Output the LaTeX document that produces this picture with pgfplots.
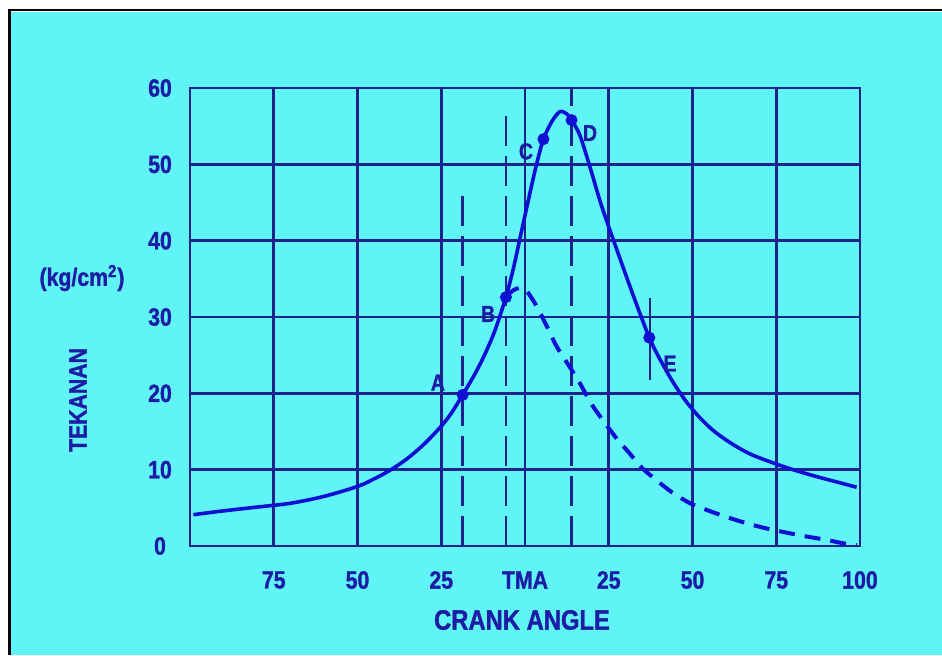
\documentclass[border=0pt]{standalone}
\usepackage{pgfplots}
\pgfplotsset{compat=1.18}
\usepackage{fontspec}
\setmainfont{Liberation Sans}
\newfontfamily\cf{Liberation Sans}[FakeStretch=0.85, BoldFeatures={FakeBold=1.2}]
\definecolor{cyanbg}{RGB}{96,244,246}
\definecolor{gridc}{RGB}{28,36,140}
\definecolor{curvec}{RGB}{16,16,210}
\definecolor{textc}{RGB}{28,28,165}
\newcommand{\lab}{\fontsize{12.5}{14}\selectfont\bfseries\cf}
\newcommand{\letr}{\fontsize{11.5}{13}\selectfont\bfseries\cf}
\begin{document}
\begin{tikzpicture}
\useasboundingbox (0,0) rectangle (471pt,327.5pt);
\fill[white] (0,0) rectangle (471pt,327.5pt);
\fill[cyanbg] (5.5pt,0) rectangle (471pt,321.5pt);
\draw[black,line width=1.4pt] (4.7pt,0) -- (4.7pt,322.5pt) -- (471pt,322.5pt);
\node[text=textc,rotate=90,font=\fontsize{12.5}{14}\selectfont\bfseries\cf] at (39pt,127.5pt) {TEKANAN};
\node[text=textc,font=\fontsize{12.5}{14}\selectfont\bfseries\cf] at (41pt,188.5pt) {(kg/cm\textsuperscript{2})};
\node[text=textc,font=\fontsize{14}{16}\selectfont\bfseries\cf] at (261pt,17.5pt) {CRANK ANGLE};
\begin{axis}[
  at={(95pt,54.5pt)}, anchor=south west,
  scale only axis, width=335pt, height=229pt,
  xmin=-100, xmax=100, ymin=0, ymax=60,
  xtick={-100,-75,-50,-25,0,25,50,75,100},
  xticklabels={,75,50,25,TMA,25,50,75,100},
  ytick={0,10,20,30,40,50,60},
  grid=major,
  major grid style={line width=1.3pt, draw=gridc},
  axis line style={line width=1.3pt, draw=gridc},
  major tick length=0pt,
  tick label style={font=\lab, text=textc},
  /pgf/number format/assume math mode=true,
  xticklabel style={anchor=center, yshift=-17pt},
  yticklabel style={anchor=center, xshift=-15pt},
  clip=false,
]
% vertical dashed reference lines
\addplot[draw=gridc, line width=1.2pt, dash pattern=on 15pt off 5pt] coordinates {(-18.6,0) (-18.6,46)};
\addplot[draw=gridc, line width=1.2pt, dash pattern=on 15pt off 5pt] coordinates {(-5.7,0) (-5.7,56.5)};
\addplot[draw=gridc, line width=1.2pt, dash pattern=on 15pt off 5pt] coordinates {(13.9,0) (13.9,60)};
\addplot[draw=gridc, line width=1.2pt] coordinates {(37.3,21.8) (37.3,32.5)};
% solid pressure curve (combustion)
\addplot[draw=curvec, line width=1.8pt, smooth] coordinates {
(-99,4.1) (-92,4.5) (-80,5.1) (-70,5.6) (-60,6.5) (-50,7.8) (-45,8.8) (-40,10.0)
(-35,11.5) (-30,13.4) (-25,15.7) (-22,17.4) (-18.6,19.8) (-15,22.5) (-12,25.1)
(-9,28.2) (-5.7,32.6) (-3.5,36.3) (-1.5,40.3) (1.5,46.3) (3.5,50.1) (5.5,53.3)
(8,55.6) (10.4,56.9) (12.5,56.6) (13.9,55.8) (16.4,53.8) (19.5,49.5) (22.9,44.5)
(28.4,37.6) (33,32) (37.1,27.3) (40,24.7) (44,21.6) (48,19.0) (52,16.9)
(56,15.2) (60,13.9) (64,12.8) (68,11.9) (74,10.9) (80,10.0) (87,9.1) (93,8.4) (99,7.7)};
% dashed curve (no combustion)
\addplot[draw=curvec, line width=2pt, smooth, dash pattern=on 8pt off 5pt] coordinates {
(-5.7,32.6) (-3.5,33.5) (-1.5,33.8) (0.5,33.4) (3.5,31.4) (6.5,28.8) (9.5,26.1)
(13,23.7) (16.4,21.3) (20,18.5) (23.9,16.1) (27.5,14) (31.3,12.1) (35,10.2)
(39.3,8.6) (44,7) (49.3,5.6) (55,4.6) (60.2,3.8) (66,3.0) (72.1,2.3) (82.1,1.4)
(90,0.8) (95,0.35) (99,0.1)};
% points A-E
\addplot[only marks, mark=*, mark size=2.8pt, color=curvec] coordinates {
(-18.6,19.8) (-5.7,32.6) (5.5,53.3) (13.9,55.8) (37.1,27.3)};
\node[text=textc,font=\letr] at (axis cs:-26,21.4) {A};
\node[text=textc,font=\letr] at (axis cs:-11,30.4) {B};
\node[text=textc,font=\letr] at (axis cs:0.3,51.7) {C};
\node[text=textc,font=\letr] at (axis cs:19.4,54.1) {D};
\node[text=textc,font=\letr] at (axis cs:43.3,23.9) {E};
\end{axis}
\end{tikzpicture}
\end{document}
